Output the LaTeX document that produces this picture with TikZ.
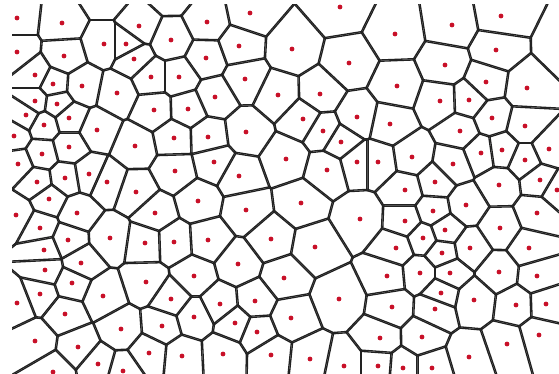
\documentclass[tikz,border=0pt]{standalone}
\usetikzlibrary{calc}
\definecolor{edgec}{RGB}{34,34,34}
\definecolor{dotc}{RGB}{200,16,40}
\tikzset{edge/.style={draw=edgec,line width=2.6pt},seed/.style={fill=dotc}}
\newdimen\ddx \newdimen\ddy
\newif\ifnear
\def\testnear#1#2#3#4{\ddx=#1pt \advance\ddx by -#3pt \ifdim\ddx<0pt \ddx=-\ddx\fi
 \ddy=#2pt \advance\ddy by -#4pt \ifdim\ddy<0pt \ddy=-\ddy\fi
 \neartrue \ifdim\ddx>95pt \nearfalse\fi \ifdim\ddy>95pt \nearfalse\fi
 \ifdim\ddx<0.01pt \ifdim\ddy<0.01pt \nearfalse\fi\fi}
\def\pts{17/18,62/23,104/44,126/44,17/52,64/56,134/59,35/75,53/84,82/86,117/93,35/101,57/104,26/115,69/118,44/125,139/26,207/22,250/13,171/40,239/46,206/58,151/77,179/77,245/79,278/95,215/97,154/110,188/109,340/7,395/34,292/49,349/63,397/86,320/94,303/119,357/117,390/124,501/16,452/25,496/50,445/65,486/82,527/88,440/101,469/100,492/118,525/126,14/136,97/130,69/147,42/154,135/146,18/164,37/182,65/178,89/174,107/182,49/199,16/215,77/213,136/192,40/228,110/238,68/240,44/250,174/138,208/137,246/132,214/162,175/171,239/176,198/201,155/213,246/210,145/243,174/242,208/240,271/239,323/131,341/142,286/159,327/170,357/162,378/162,412/157,301/203,405/190,360/219,405/221,315/247,396/248,460/131,481/153,502/150,549/149,453/164,525/160,435/182,499/185,540/180,557/190,466/205,433/211,537/213,445/230,500/228,423/238,470/248,529/248,81/263,45/270,72/283,40/294,17/303,103/296,65/314,121/329,35/341,78/347,98/364,53/372,123/371,238/264,194/276,146/282,171/299,220/304,255/301,194/317,162/326,235/323,257/332,149/353,182/356,223/354,271/355,284/278,387/276,420/273,339/299,392/307,291/318,380/338,310/359,344/366,378/366,403/368,442/253,450/273,499/272,537/276,441/293,474/300,516/305,546/304,435/309,539/335,422/337,507/344,469/357,432/368}
\def\ghosts{566/48,104/-4,170/-8}
\edef\allpts{\pts,\ghosts}
\begin{document}
\begin{tikzpicture}[x=1pt,y=-1pt]
\useasboundingbox (0,0) rectangle (559,374);
\fill[white] (0,0) rectangle (559,374);
\begin{scope}
\clip (12,5) rectangle (559,374);
\foreach \xa/\ya in \allpts {
  \begin{scope}
  \coordinate (A) at (\xa,\ya);
  \foreach \xb/\yb in \allpts {
    \testnear{\xa}{\ya}{\xb}{\yb}%
    \ifnear
      \coordinate (M) at ($(A)!0.5!(\xb,\yb)$);
      \clip ($(M)!1500pt!90:(A)$) -- ($(M)!1500pt!(A)$) -- ($(M)!1500pt!-90:(A)$) -- cycle;
    \fi
  }
  \foreach \xb/\yb in \allpts {
    \testnear{\xa}{\ya}{\xb}{\yb}%
    \ifnear
      \coordinate (M) at ($(A)!0.5!(\xb,\yb)$);
      \draw[edge] ($(M)!1500pt!90:(A)$) -- ($(M)!1500pt!-90:(A)$);
    \fi
  }
  \end{scope}
}
\end{scope}
\foreach \x/\y in \pts {\fill[seed] (\x,\y) circle (2.4pt);}
\end{tikzpicture}
\end{document}
